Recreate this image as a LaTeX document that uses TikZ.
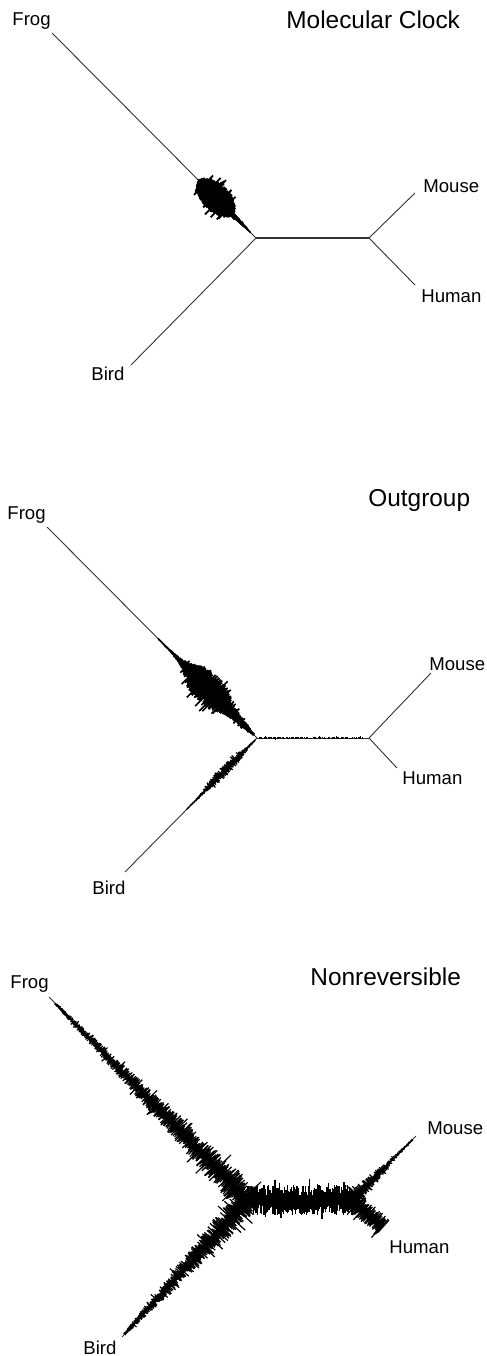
\documentclass[tikz,border=0pt]{standalone}
\usepackage{fontspec}
\setmainfont{Liberation Sans}
\tikzset{
  branch/.style={draw=black!80, line width=0.45pt},
  fuzzline/.style={draw=black, line width=#1},
  leaf/.style={anchor=base west, inner sep=0pt, font=\fontsize{9.3}{11}\selectfont},
  paneltitle/.style={anchor=base west, inner sep=0pt, font=\fontsize{12.2}{14}\selectfont},
}
% #1 x0, #2 y0, #3 x1, #4 y1 (px), #5 d0, #6 d1, #7 ticks, #8 half-width (px) in \fzd, #9 min fraction
\newcommand{\drawfuzz}[9]{%
  \pgfmathsetmacro{\fzL}{veclen(#3-#1,#4-#2)}%
  \pgfmathsetmacro{\fzux}{(#3-#1)/\fzL}%
  \pgfmathsetmacro{\fzuy}{(#4-#2)/\fzL}%
  \foreach \fzk in {0,...,#7}{%
    \pgfmathsetmacro{\fzd}{#5+(#6-#5)*(\fzk/#7)}%
    \pgfmathsetmacro{\fzw}{#8}%
    \pgfmathsetmacro{\fza}{\fzw*(#9+(1-#9)*rnd)*(rnd<0.09 ? 1.45 : 1)}%
    \pgfmathsetmacro{\fzb}{\fzw*(#9+(1-#9)*rnd)*(rnd<0.09 ? 1.45 : 1)}%
    \pgfmathsetmacro{\fzpx}{#1+\fzd*\fzux}%
    \pgfmathsetmacro{\fzpy}{#2+\fzd*\fzuy}%
    \draw ({\fzpx-\fza*\fzuy},{\fzpy+\fza*\fzux}) -- ({\fzpx+\fzb*\fzuy},{\fzpy-\fzb*\fzux});
  }}
\begin{document}
\begin{tikzpicture}[x=0.5pt,y=-0.5pt]
\pgfmathsetseed{4242}
\useasboundingbox (0,0) rectangle (487,1356);
\fill[white] (0,0) rectangle (487,1356);

% ---------- Panel 1: Molecular Clock ----------
\coordinate (A1) at (256,238);
\coordinate (B1) at (369,238);
\coordinate (F1e) at (52,33);
\coordinate (Bi1e) at (131,365);
\coordinate (M1e) at (415,193);
\coordinate (H1e) at (415,285);
\node[paneltitle] (title1) at (286,28) {Molecular Clock};
\node[leaf] (frog1) at (12,25) {Frog};
\node[leaf] (mouse1) at (423,192) {Mouse};
\node[leaf] (human1) at (421,302) {Human};
\node[leaf] (bird1) at (91,380) {Bird};
\draw[branch] (A1) -- (F1e);
\draw[branch] (A1) -- (Bi1e);
\draw[branch, line width=0.8pt] (A1) -- (B1);
\draw[branch] (B1) -- (M1e);
\draw[branch] (B1) -- (H1e);
\begin{scope}[fuzzline=0.9pt]
\drawfuzz{256}{238}{52}{33}{8}{82}{220}{max(14*sqrt(max(0,1-((\fzd-57)/24)*((\fzd-57)/24))), 2.2-0.08*abs(\fzd-30), 0.4)}{0.7}
\end{scope}

% ---------- Panel 2: Outgroup ----------
\coordinate (A2) at (257,738);
\coordinate (B2) at (369,738);
\coordinate (F2e) at (47,527);
\coordinate (Bi2e) at (125,872);
\coordinate (M2e) at (431,673);
\coordinate (H2e) at (397,768);
\node[paneltitle] (title2) at (368,506) {Outgroup};
\node[leaf] (frog2) at (7,519) {Frog};
\node[leaf] (mouse2) at (429,670) {Mouse};
\node[leaf] (human2) at (402,784) {Human};
\node[leaf] (bird2) at (92,894) {Bird};
\draw[branch] (A2) -- (F2e);
\draw[branch] (A2) -- (Bi2e);
\draw[branch] (A2) -- (B2);
\draw[branch] (B2) -- (M2e);
\draw[branch] (B2) -- (H2e);
\begin{scope}[fuzzline=0.8pt]
\drawfuzz{257}{738}{47}{527}{5}{140}{300}{16/(1+((\fzd-70)/26)*((\fzd-70)/26)*((\fzd-70)/26)*((\fzd-70)/26)) + 2.5/(1+((\fzd-25)/15)*((\fzd-25)/15)*((\fzd-25)/15)*((\fzd-25)/15)) + 0.3}{0.5}
\end{scope}
\begin{scope}[fuzzline=0.6pt]
\drawfuzz{257}{738}{125}{872}{3}{100}{150}{4.5/(1+((\fzd-45)/25)*((\fzd-45)/25)*((\fzd-45)/25)*((\fzd-45)/25)) + 0.5}{0.3}
\end{scope}
\begin{scope}[fuzzline=0.5pt]
\drawfuzz{257}{738}{369}{738}{2}{105}{80}{1.4}{0.2}
\end{scope}

% ---------- Panel 3: Nonreversible ----------
\coordinate (A3) at (248,1200);
\coordinate (B3) at (352,1200);
\coordinate (F3e) at (49,997);
\coordinate (Bi3e) at (122,1337);
\coordinate (M3e) at (416,1136);
\coordinate (H3e) at (383,1228);
\node[paneltitle] (title3) at (310,985) {Nonreversible};
\node[leaf] (frog3) at (10,988) {Frog};
\node[leaf] (mouse3) at (427,1134) {Mouse};
\node[leaf] (human3) at (389,1253) {Human};
\node[leaf] (bird3) at (83,1354) {Bird};
\draw[branch] (A3) -- (F3e);
\draw[branch] (A3) -- (Bi3e);
\draw[branch] (A3) -- (B3);
\draw[branch] (B3) -- (M3e);
\draw[branch] (B3) -- (H3e);
\begin{scope}[fuzzline=0.6pt]
\drawfuzz{248}{1200}{49}{997}{0}{275}{430}{1+15*(1-\fzd/284)}{0.2}
\drawfuzz{248}{1200}{352}{1200}{0}{104}{170}{15}{0.25}
\drawfuzz{352}{1200}{416}{1136}{0}{85}{120}{1+11*(1-\fzd/90)*(1-\fzd/90)}{0.2}
\drawfuzz{352}{1200}{383}{1228}{0}{41}{60}{11}{0.25}
\drawfuzz{248}{1200}{122}{1337}{0}{182}{280}{1.5+14*(1-\fzd/186)}{0.2}
\end{scope}
\end{tikzpicture}
\end{document}
